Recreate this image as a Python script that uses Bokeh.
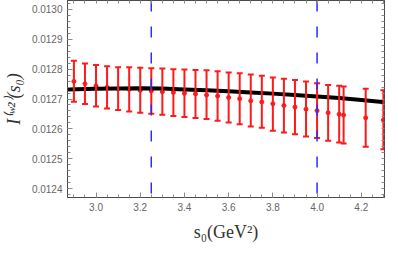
import numpy as np
from bokeh.plotting import figure
from bokeh.models import (LinearAxis, Span, Whisker, TeeHead, ColumnDataSource,
                          Range1d, SingleIntervalTicker, NumeralTickFormatter,
                          FixedTicker)
from bokeh.embed import file_html
from bokeh.resources import INLINE

# ---- data ----
s0 = [2.90, 2.95, 3.00, 3.05, 3.10, 3.15, 3.20, 3.25, 3.30, 3.35, 3.40, 3.45,
      3.50, 3.55, 3.60, 3.65, 3.70, 3.75, 3.80, 3.85, 3.90, 3.95, 4.00, 4.05,
      4.10, 4.12, 4.22, 4.30]
center = [0.012759, 0.012751, 0.012744, 0.012739, 0.012734, 0.012732, 0.012729,
          0.012727, 0.012724, 0.012722, 0.012719, 0.012717, 0.012713, 0.012710,
          0.012705, 0.012701, 0.012694, 0.012690, 0.012684, 0.012678, 0.012673,
          0.012666, 0.012661, 0.012654, 0.012649, 0.012646, 0.012637, 0.012630]
upper = [0.012828, 0.012819, 0.012814, 0.012810, 0.012806, 0.012806, 0.012805,
         0.012803, 0.012802, 0.012800, 0.012799, 0.012797, 0.012796, 0.012793,
         0.012789, 0.012786, 0.012782, 0.012778, 0.012772, 0.012768, 0.012764,
         0.012759, 0.012753, 0.012747, 0.012744, 0.012742, 0.012734, 0.012729]
lower = [0.012691, 0.012683, 0.012675, 0.012668, 0.012663, 0.012658, 0.012654,
         0.012651, 0.012647, 0.012643, 0.012640, 0.012636, 0.012633, 0.012627,
         0.012621, 0.012615, 0.012608, 0.012604, 0.012594, 0.012588, 0.012582,
         0.012574, 0.012569, 0.012560, 0.012554, 0.012551, 0.012540, 0.012532]

curve_s0 = [2.87, 3.0, 3.1, 3.2, 3.3, 3.4, 3.5, 3.6, 3.7, 3.8, 3.9, 4.0, 4.1, 4.2, 4.31]
curve_val = [0.012732, 0.012734, 0.012735, 0.012736, 0.012735, 0.012732, 0.012729,
             0.012726, 0.012722, 0.012718, 0.012713, 0.012708, 0.012703, 0.012697,
             0.012689]

window_marks = [3.25, 4.0]

x_tick_step = 0.2
y_tick_step = 0.0001

AXIS_COL = "#4a4a4a"
TICK_COL = "#8a8a8a"
LABEL_COL = "#666666"

p = figure(width=390, height=245, output_backend="svg", toolbar_location=None,
           x_range=Range1d(2.871, 4.305), y_range=Range1d(0.012370, 0.013030),
           min_border_left=61, min_border_right=6, min_border_top=0,
           min_border_bottom=48, x_axis_location=None, y_axis_location=None)
p.xgrid.visible = False
p.ygrid.visible = False
p.outline_line_color = TICK_COL
p.background_fill_color = "white"
p.border_fill_color = "white"


def style_axis(ax):
    ax.axis_line_color = AXIS_COL
    ax.axis_line_width = 1
    ax.major_tick_line_color = TICK_COL
    ax.minor_tick_line_color = TICK_COL
    ax.major_tick_in = 5
    ax.major_tick_out = 0
    ax.minor_tick_in = 3
    ax.minor_tick_out = 0
    ax.major_label_text_color = LABEL_COL
    ax.major_label_text_font = "Liberation Sans"
    ax.major_label_text_font_size = "10px"
    ax.major_label_standoff = 5


xb = LinearAxis(ticker=SingleIntervalTicker(interval=x_tick_step, num_minor_ticks=4),
                formatter=NumeralTickFormatter(format="0.0"),
                axis_label="s₀(GeV²)")
style_axis(xb)
xb.axis_label_text_font = "Liberation Serif"
xb.axis_label_text_font_style = "normal"
xb.axis_label_text_font_size = "18px"
xb.axis_label_text_color = "#333333"
xb.axis_label_standoff = 8
p.add_layout(xb, "below")

yl = LinearAxis(ticker=SingleIntervalTicker(interval=y_tick_step, num_minor_ticks=5),
                formatter=NumeralTickFormatter(format="0.0000"),
                axis_label="I⁽ʷ²⁾(s₀)")
style_axis(yl)
yl.axis_label_text_font = "Liberation Serif"
yl.axis_label_text_font_style = "italic"
yl.axis_label_text_font_size = "18px"
yl.axis_label_text_color = "#333333"
yl.axis_label_standoff = 5
p.add_layout(yl, "left")

# mirrored frame ticks (top/right) without any labels
top_ticks = [round(v, 3) for v in np.arange(2.85, 4.351, x_tick_step / 4)]
right_ticks = [round(v, 6) for v in np.arange(0.01236, 0.013041, y_tick_step / 5)]

xa = LinearAxis(ticker=FixedTicker(ticks=[], minor_ticks=top_ticks))
style_axis(xa)
xa.major_label_standoff = 0
p.add_layout(xa, "above")

yr = LinearAxis(ticker=FixedTicker(ticks=[], minor_ticks=right_ticks))
style_axis(yr)
yr.major_label_standoff = 0
p.add_layout(yr, "right")

src = ColumnDataSource(dict(s0=s0, center=center, upper=upper, lower=lower))

err = Whisker(source=src, base="s0", upper="upper", lower="lower",
              dimension="height", line_color="#ff1a1a", line_width=2,
              upper_head=TeeHead(size=6, line_color="#ff1a1a", line_width=2),
              lower_head=TeeHead(size=6, line_color="#ff1a1a", line_width=2),
              level="glyph")
p.add_layout(err)
p.scatter("s0", "center", source=src, size=4, color="#ff1a1a")

for m in window_marks:
    p.add_layout(Span(location=m, dimension="height", line_color="#2b2bff",
                      line_width=1.5, line_dash="11 15", level="glyph"))

p.line(curve_s0, curve_val, line_color="black", line_width=4)

open("out.html", "w").write(file_html(p, INLINE))
